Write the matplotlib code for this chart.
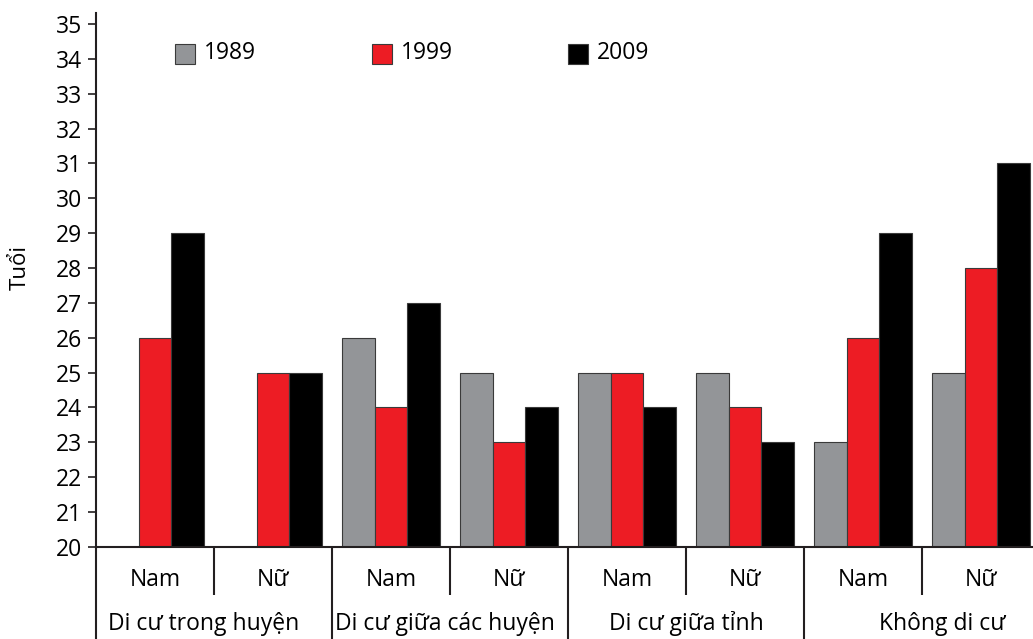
import numpy as np
import matplotlib
matplotlib.use("Agg")
import matplotlib.pyplot as plt
from matplotlib.patches import Rectangle
import matplotlib.transforms as mtransforms

plt.rcParams['font.family'] = ['Open Sans', 'DejaVu Sans']

# ---- data ----
sexes = ["Nam", "Nữ", "Nam", "Nữ", "Nam", "Nữ", "Nam", "Nữ"]
groups = ["Di cư trong huyện", "Di cư giữa các huyện", "Di cư giữa tỉnh", "Không di cư"]
years = ["1989", "1999", "2009"]
v1989 = [np.nan, np.nan, 26, 25, 25, 25, 23, 25]
v1999 = [26, 25, 24, 23, 25, 24, 26, 28]
v2009 = [29, 25, 27, 24, 24, 23, 29, 31]
yticks = list(range(20, 36))
colors = ["#939598", "#ED1C24", "#000000"]

W, H = 1033, 639
fig = plt.figure(figsize=(W / 100, H / 100), dpi=100)

left_px, right_px = 96, 1040
bottom_px, top_px = 546.7, 13
ax = fig.add_axes([left_px / W, (H - bottom_px) / H,
                   (right_px - left_px) / W, (bottom_px - top_px) / H])

x = np.arange(len(sexes))
bw = 0.275
base = 20
for i, (vals, c) in enumerate(zip([v1989, v1999, v2009], colors)):
    h = np.array(vals, dtype=float) - base
    ax.bar(x + (i - 1) * bw, h, bw, bottom=base, color=c,
           edgecolor="#3a3a3a", linewidth=0.8, zorder=2)

ax.set_xlim(-0.5, len(sexes) - 0.5)
ax.set_ylim(20, 35.32)
ax.set_yticks(yticks)
ax.set_yticklabels([str(t) for t in yticks], fontsize=16.5)
ax.tick_params(axis='y', direction='out', length=6, width=1.2, pad=4, color='#231f20')
ax.set_xticks([])
for s in ['top', 'right']:
    ax.spines[s].set_visible(False)
ax.spines['left'].set_linewidth(1.5)
ax.spines['bottom'].set_linewidth(1.5)
ax.spines['left'].set_color('#231f20')
ax.spines['bottom'].set_color('#231f20')

fig.text(20 / W, (H - 267) / H, "Tuổi", rotation=90, fontsize=16,
         ha='center', va='center')

# ---- category axis below ----
trans = mtransforms.blended_transform_factory(ax.transData, fig.transFigure)
y_axis = (H - bottom_px) / H
y_short = (H - 595) / H
for b in np.arange(-0.5, len(sexes), 1.0):
    k = int(b + 0.5)
    y_end = 0.0 if k % 2 == 0 else y_short
    ax.plot([b, b], [y_axis, y_end], transform=trans, color='#231f20',
            lw=1.5, clip_on=False, solid_capstyle='butt')

for xi, s in zip(x, sexes):
    ax.text(xi, (H - 580) / H, s, transform=trans, ha='center', va='center', fontsize=16.5)

# group label placement tweaks (in category units)
grp_offsets = [-0.09, -0.04, 0.0, 0.17]
for gi, g in enumerate(groups):
    ax.text(2 * gi + 0.5 + grp_offsets[gi], (H - 624) / H, g, transform=trans,
            ha='center', va='center', fontsize=16.5)

# ---- legend ----
leg_x = [175, 372, 568]
for lx, c, yr in zip(leg_x, colors, years):
    fig.add_artist(Rectangle((lx / W, (H - 63.5) / H), 20 / W, 19.5 / H,
                             transform=fig.transFigure, facecolor=c,
                             edgecolor='#3a3a3a', linewidth=0.8))
    fig.text((lx + 29) / W, (H - 53) / H, yr, fontsize=16.5, ha='left', va='center')

fig.savefig("out.png", dpi=100)
